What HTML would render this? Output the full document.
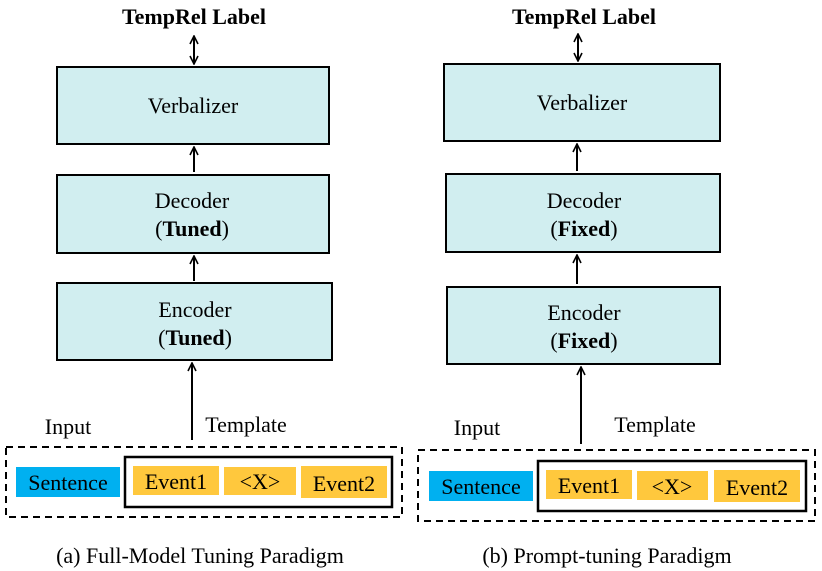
<!DOCTYPE html>
<html><head><meta charset="utf-8"><style>
html,body{margin:0;padding:0;background:#fff;}
svg{display:block;font-family:"Liberation Serif",serif;}
</style></head><body>
<svg width="822" height="571" viewBox="0 0 822 571" xmlns="http://www.w3.org/2000/svg">
<defs>
<marker id="ah" markerWidth="10" markerHeight="10" refX="9" refY="5" orient="auto-start-reverse" markerUnits="userSpaceOnUse">
<path d="M1,1 L9,5 L1,9" fill="none" stroke="#000" stroke-width="1.6"/>
</marker>
</defs>
<g stroke="#000" stroke-width="2" fill="#d1eef0">
<rect x="57" y="67" width="272" height="77"/>
<rect x="57" y="175" width="272" height="78"/>
<rect x="57" y="283" width="275" height="77"/>
<rect x="444" y="64" width="276" height="77"/>
<rect x="446" y="174" width="274" height="78"/>
<rect x="447" y="287" width="273" height="77"/>
</g>
<g stroke="#000" stroke-width="2" fill="none">
<line x1="194" y1="36" x2="194" y2="64" marker-end="url(#ah)" marker-start="url(#ah)"/>
<line x1="194" y1="172" x2="194" y2="147" marker-end="url(#ah)"/>
<line x1="194" y1="281" x2="194" y2="256" marker-end="url(#ah)"/>
<line x1="192" y1="440" x2="192" y2="363" marker-end="url(#ah)"/>
<line x1="578" y1="34" x2="578" y2="61" marker-end="url(#ah)" marker-start="url(#ah)"/>
<line x1="577" y1="171" x2="577" y2="144" marker-end="url(#ah)"/>
<line x1="577" y1="284" x2="577" y2="255" marker-end="url(#ah)"/>
<line x1="581" y1="444" x2="581" y2="367" marker-end="url(#ah)"/>
<rect x="6" y="447" width="396" height="70" stroke-dasharray="7,5"/>
<rect x="418" y="450" width="397" height="71" stroke-dasharray="7,5"/>
<rect x="125" y="457" width="267" height="50" stroke-width="2.5"/>
<rect x="538" y="461" width="268" height="50" stroke-width="2.5"/>
</g>
<g stroke="none">
<rect x="16" y="467" width="104" height="30" fill="#00b0f0"/>
<rect x="133" y="466" width="86" height="29" fill="#ffc83d"/>
<rect x="224" y="467" width="72" height="28" fill="#ffc83d"/>
<rect x="301" y="466" width="86" height="32" fill="#ffc83d"/>
<rect x="429" y="471" width="104" height="30" fill="#00b0f0"/>
<rect x="546" y="470" width="86" height="29" fill="#ffc83d"/>
<rect x="637" y="471" width="71" height="29" fill="#ffc83d"/>
<rect x="714" y="470" width="86" height="32" fill="#ffc83d"/>
</g>
<g font-size="22" text-anchor="middle" fill="#000">
<text x="194" y="24" font-weight="bold" font-size="22">TempRel Label</text>
<text x="584" y="24" font-weight="bold" font-size="22">TempRel Label</text>
<text x="193" y="113">Verbalizer</text>
<text x="192" y="208">Decoder</text>
<text x="192" y="236">(<tspan font-weight="bold">Tuned</tspan>)</text>
<text x="195" y="317">Encoder</text>
<text x="195" y="345">(<tspan font-weight="bold">Tuned</tspan>)</text>
<text x="582" y="110">Verbalizer</text>
<text x="584" y="208">Decoder</text>
<text x="584" y="236">(<tspan font-weight="bold">Fixed</tspan>)</text>
<text x="584" y="320">Encoder</text>
<text x="584" y="348">(<tspan font-weight="bold">Fixed</tspan>)</text>
<text x="68" y="434">Input</text>
<text x="246" y="432">Template</text>
<text x="477" y="435">Input</text>
<text x="655" y="432">Template</text>
<text x="68" y="490">Sentence</text>
<text x="176" y="489">Event1</text>
<text x="260" y="489">&lt;X&gt;</text>
<text x="344" y="491">Event2</text>
<text x="481" y="494">Sentence</text>
<text x="589" y="493">Event1</text>
<text x="672" y="494">&lt;X&gt;</text>
<text x="757" y="495">Event2</text>
<text x="200" y="563" font-size="22">(a) Full-Model Tuning Paradigm</text>
<text x="607" y="563" font-size="22">(b) Prompt-tuning Paradigm</text>
</g>
</svg>
</body></html>
